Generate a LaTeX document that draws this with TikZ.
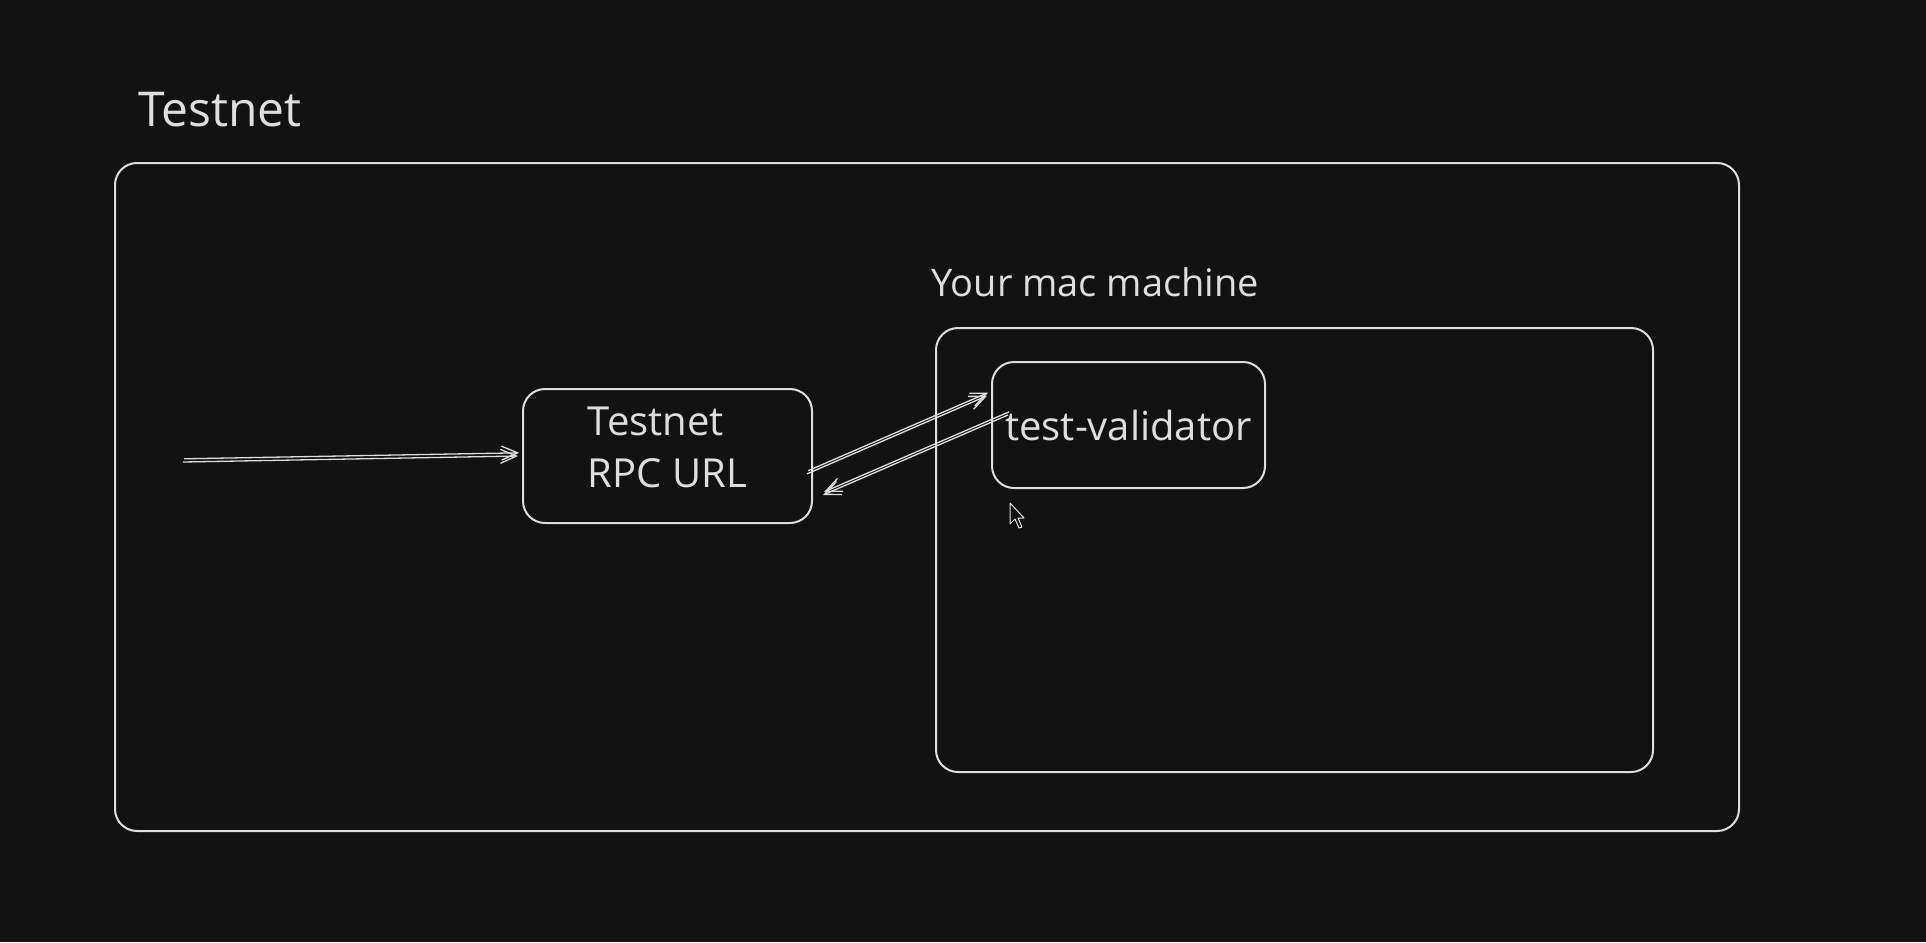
\documentclass[tikz,border=0pt]{standalone}
\usepackage{fontspec}
\setmainfont{Open Sans}
\usetikzlibrary{arrows.meta,calc}
\definecolor{bgdark}{HTML}{121212}
\definecolor{chalk}{HTML}{DEDEDE}
\begin{document}
\begin{tikzpicture}[x=0.5pt, y=-0.5pt,
    frame/.style={draw=chalk, line width=1pt, rounded corners=11pt, inner sep=0pt, text=chalk},
    heading/.style={text=chalk, inner sep=0pt, font=\fontsize{24}{30}\selectfont},
    boxtext/.style={text=chalk, inner sep=0pt, font=\fontsize{20}{26}\selectfont, align=left},
    flow/.style={draw=chalk, line width=0.65pt, -{Straight Barb[length=8pt,width=7pt]},
      postaction={draw, transform canvas={shift={(0.6pt,1.6pt)}}}}]
        \fill[bgdark] (0,0) rectangle (1926,942);
        \useasboundingbox (0,0) rectangle (1926,942);
        % frames
        \node[frame, minimum width=812pt, minimum height=334pt] (net) at (927,497) {};
        \node[frame, minimum width=358.5pt, minimum height=222pt] (mac) at (1294.5,550) {};
        \node[frame, minimum width=144.5pt, minimum height=67pt] (rpc) at (667.5,456) {};
        \node[boxtext] (rpctext) at ($(rpc)+(0,-9)$) {Testnet\\RPC URL};
        \node[frame, boxtext, minimum width=136.5pt, minimum height=63pt] (val) at (1128.5,425) {test-validator};
        \node[heading, anchor=base west] (nettitle) at (138,126) {Testnet};
        \node[heading, anchor=base west, font=\fontsize{19}{24}\selectfont] (mactitle) at (931,296) {Your mac machine};
        % arrows
        \coordinate (src) at (183,462);
        \draw[flow] (src) -- ([xshift=-2pt]rpc.west);
        \draw[flow] ([xshift=-3pt]rpc.-7) -- ([xshift=-2pt]val.168);
        \draw[flow] ($(val.west)+(17,-10)$) -- ($(rpc.east)+(10,39)$);
        % pointer
        \draw[chalk, line width=0.5pt, fill=bgdark, line join=round] (1010,503) -- (1010,524) -- (1015,519) -- (1019,528) -- (1022,527) -- (1018,518) -- (1024,518) -- cycle;
\end{tikzpicture}
\end{document}
